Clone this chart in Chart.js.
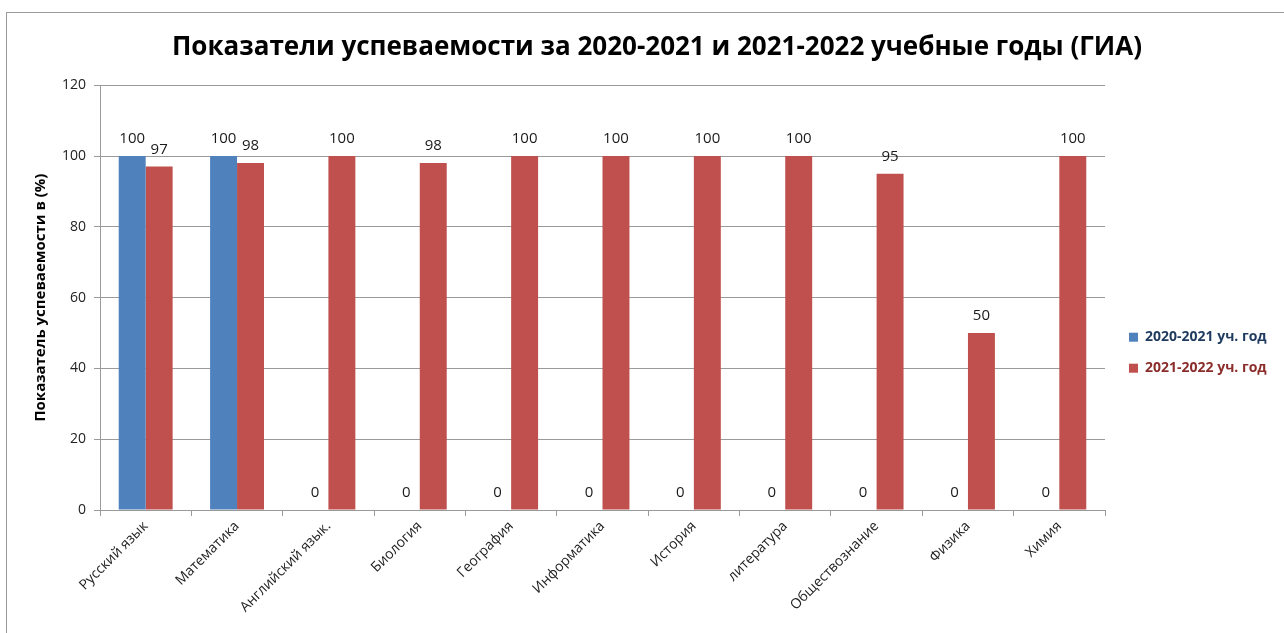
<!DOCTYPE html>
<html>
<head>
<meta charset="utf-8">
<script src="https://cdn.jsdelivr.net/npm/chart.js@4.4.0/dist/chart.umd.min.js"></script>
<style>
  body { margin: 0; background: #fff; }
  #frame { position: absolute; left: 6px; top: 12px; width: 1300px; height: 640px;
           border-left: 1px solid #9a9a9a; border-top: 1px solid #9a9a9a; }
  #wrap { position: absolute; left: 0; top: 0; width: 1284px; height: 633px; }
</style>
</head>
<body>
<div id="frame"></div>
<div id="wrap"><canvas id="chart" width="1284" height="633"></canvas></div>
<script>
// data
const subjects = ['Русский язык', 'Математика', 'Английский язык.', 'Биология', 'География',
  'Информатика', 'История', 'литература', 'Обществознание', 'Физика', 'Химия'];
const year2021 = [100, 100, 0, 0, 0, 0, 0, 0, 0, 0, 0];
const year2022 = [97, 98, 100, 98, 100, 100, 100, 100, 95, 50, 100];
const seriesNames = ['2020-2021 уч. год', '2021-2022 уч. год'];
const yTicks = [0, 20, 40, 60, 80, 100, 120];

const font = "'Open Sans', 'DejaVu Sans', sans-serif";

// value labels above each bar
const barLabels = {
  id: 'barLabels',
  afterDatasetsDraw(chart) {
    const ctx = chart.ctx;
    ctx.save();
    ctx.font = '15px ' + font;
    ctx.fillStyle = '#1a1a1a';
    ctx.textAlign = 'center';
    ctx.textBaseline = 'middle';
    chart.data.datasets.forEach((ds, i) => {
      chart.getDatasetMeta(i).data.forEach((bar, j) => {
        ctx.fillText(ds.data[j], bar.x, bar.y - 17);
      });
    });
    ctx.restore();
  }
};

// fixed legend width so the plot ends where it does in the picture
const legendPlace = {
  id: 'legendPlace',
  beforeUpdate(chart) {
    const lg = chart.legend;
    if (lg && !lg._patched) {
      const fit = lg.fit.bind(lg);
      lg.fit = function () { fit(); this.width = 179; };
      lg._patched = true;
    }
  },
  afterLayout(chart) {
    chart.legend.left += 7;
    chart.legend.right += 7;
  }
};

new Chart(document.getElementById('chart'), {
  type: 'bar',
  data: {
    labels: subjects,
    datasets: [
      { label: seriesNames[0], data: year2021, backgroundColor: '#4F81BD' },
      { label: seriesNames[1], data: year2022, backgroundColor: '#C0504D' }
    ]
  },
  plugins: [barLabels, legendPlace],
  options: {
    responsive: false,
    animation: false,
    categoryPercentage: 0.59,
    barPercentage: 1,
    layout: { padding: { left: 30, right: 0, top: 0, bottom: 0 } },
    plugins: {
      tooltip: { enabled: false },
      title: {
        display: true,
        text: 'Показатели успеваемости за 2020-2021 и 2021-2022 учебные годы (ГИА)',
        font: { family: font, size: 26, weight: 'bold' },
        color: '#000',
        padding: { top: 32, bottom: 22 }
      },
      legend: {
        position: 'right',
        title: { display: true, text: '', padding: { top: 58, bottom: 0 } },
        labels: {
          boxWidth: 9,
          boxHeight: 9,
          padding: 17,
          font: { family: font, size: 14, weight: 'bold' },
          generateLabels(chart) {
            const textColors = ['#1F3A5F', '#8B2E2B'];
            return chart.data.datasets.map((ds, i) => ({
              text: ds.label,
              fillStyle: ds.backgroundColor,
              strokeStyle: ds.backgroundColor,
              lineWidth: 0,
              fontColor: textColors[i],
              datasetIndex: i
            }));
          }
        }
      }
    },
    scales: {
      x: {
        afterFit(s) { s.height = 123; },
        grid: { drawOnChartArea: false, drawTicks: true, tickLength: 6, color: '#9a9a9a' },
        border: { color: '#9a9a9a' },
        ticks: {
          minRotation: 45, maxRotation: 45, autoSkip: false,
          color: '#222', padding: 2,
          font: { family: font, size: 14 }
        }
      },
      y: {
        min: 0, max: 120,
        afterFit(s) { s.width = 70; },
        afterBuildTicks(s) { s.ticks = yTicks.map(v => ({ value: v })); },
        grid: { color: '#9a9a9a', tickLength: 6 },
        border: { color: '#9a9a9a' },
        ticks: { color: '#222', padding: 8, font: { family: font, size: 14 } },
        title: {
          display: true,
          text: 'Показатель успеваемости в (%)',
          color: '#000',
          font: { family: font, size: 15, weight: 'bold' },
          padding: { top: 2, bottom: 0 }
        }
      }
    }
  }
});
</script>
</body>
</html>
